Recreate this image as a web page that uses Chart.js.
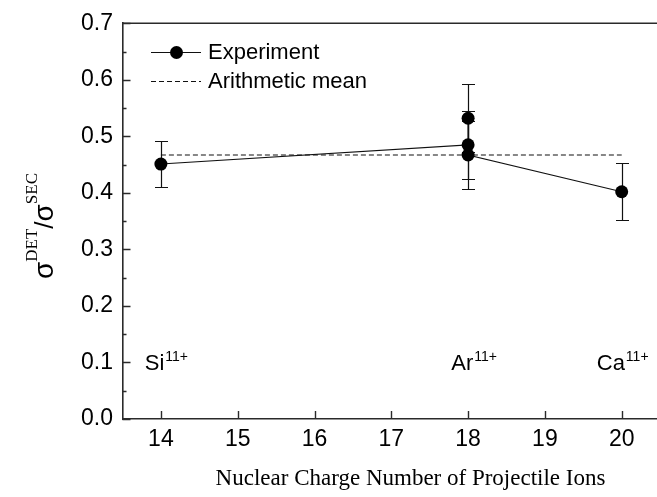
<!DOCTYPE html>
<html>
<head>
<meta charset="utf-8">
<script src="https://cdn.jsdelivr.net/npm/chart.js@4/dist/chart.umd.min.js"></script>
<style>
  html, body { margin: 0; padding: 0; background: #fff; overflow: hidden; }
  #wrap { width: 657px; height: 497px; overflow: hidden; }
</style>
</head>
<body>
<div id="wrap"><canvas id="ratio" width="705" height="497"></canvas></div>
<script>
// data
const ionZ = [14, 18, 18, 18, 20];
const ratio = [0.451, 0.485, 0.532, 0.467, 0.402];
const ratioErr = [0.04, 0.06, 0.06, 0.06, 0.05];
const meanValue = 0.467;
const meanRange = [14, 20];
const xTicks = [14, 15, 16, 17, 18, 19, 20];
const yTicks = [0, 0.1, 0.2, 0.3, 0.4, 0.5, 0.6, 0.7];
const ionNames = ["Si", "Ar", "Ca"];
const ionLabelX = [13.79, 17.78, 19.675];
const ionLabelY = 0.087;
const legendLabels = ["Experiment", "Arithmetic mean"];
const xTitle = "Nuclear Charge Number of Projectile Ions";

const SANS = "'Liberation Sans', Arial, sans-serif";
const SERIF = "'Liberation Serif', 'Times New Roman', serif";
const AXIS = "#2a2a2a";

const extras = {
  id: "extras",
  beforeDatasetsDraw(chart) {
    const { ctx, scales: { x, y } } = chart;
    ctx.save();
    ctx.strokeStyle = "#111";
    ctx.lineWidth = 1.2;
    ionZ.forEach((z, i) => {
      const px = Math.round(x.getPixelForValue(z)) + 0.5;
      const top = Math.round(y.getPixelForValue(ratio[i] + ratioErr[i])) + 0.5;
      const bot = Math.round(y.getPixelForValue(ratio[i] - ratioErr[i])) + 0.5;
      ctx.beginPath();
      ctx.moveTo(px, top); ctx.lineTo(px, bot);
      ctx.moveTo(px - 6.5, top); ctx.lineTo(px + 6.5, top);
      ctx.moveTo(px - 6.5, bot); ctx.lineTo(px + 6.5, bot);
      ctx.stroke();
    });
    ctx.restore();
  },
  afterDraw(chart) {
    const { ctx, chartArea: a, scales: { x, y } } = chart;
    ctx.save();
    // top frame line
    ctx.strokeStyle = AXIS;
    ctx.lineWidth = 1.6;
    ctx.beginPath();
    ctx.moveTo(a.left, a.top); ctx.lineTo(a.right, a.top);
    ctx.stroke();
    // inward ticks
    ctx.lineWidth = 1.4;
    ctx.beginPath();
    for (let v = 0; v <= 0.7001; v += 0.05) {
      const py = Math.round(y.getPixelForValue(v)) + 0.5;
      const major = Math.abs(v * 10 - Math.round(v * 10)) < 1e-6;
      ctx.moveTo(a.left, py); ctx.lineTo(a.left + (major ? 8 : 4), py);
    }
    xTicks.forEach(v => {
      const px = Math.round(x.getPixelForValue(v)) + 0.5;
      ctx.moveTo(px, a.bottom); ctx.lineTo(px, a.bottom - 8);
    });
    ctx.stroke();

    // legend
    ctx.strokeStyle = "#111";
    ctx.lineWidth = 1.1;
    ctx.beginPath();
    ctx.moveTo(151, 52.5); ctx.lineTo(201, 52.5);
    ctx.stroke();
    ctx.fillStyle = "#000";
    ctx.beginPath();
    ctx.arc(176.5, 52.5, 6.5, 0, Math.PI * 2);
    ctx.fill();
    ctx.setLineDash([5, 3]);
    ctx.beginPath();
    ctx.moveTo(151, 81.5); ctx.lineTo(201, 81.5);
    ctx.stroke();
    ctx.setLineDash([]);
    ctx.font = "22px " + SANS;
    ctx.textBaseline = "middle";
    ctx.fillText(legendLabels[0], 208, 53);
    ctx.fillText(legendLabels[1], 208, 82);

    // ion labels
    ctx.textBaseline = "alphabetic";
    ionNames.forEach((n, i) => {
      const px = x.getPixelForValue(ionLabelX[i]);
      const py = y.getPixelForValue(ionLabelY);
      ctx.font = "22px " + SANS;
      ctx.fillText(n, px, py);
      const w = ctx.measureText(n).width;
      ctx.font = "14px " + SANS;
      ctx.fillText("11+", px + w + 1, py - 9);
    });

    // y title
    ctx.translate(53, 279);
    ctx.rotate(-Math.PI / 2);
    let u = 0;
    const part = (t, font, dv) => {
      ctx.font = font;
      ctx.fillText(t, u, dv);
      u += ctx.measureText(t).width;
    };
    part("σ", "28px " + SANS, 0);
    part("DET", "17px " + SERIF, -16);
    part("/", "26px " + SANS, 0);
    part("σ", "28px " + SANS, 0);
    part("SEC", "17px " + SERIF, -16);
    ctx.restore();
  }
};

new Chart(document.getElementById("ratio"), {
  type: "scatter",
  data: {
    datasets: [
      {
        label: legendLabels[0],
        data: ionZ.map((z, i) => ({ x: z, y: ratio[i] })),
        showLine: true,
        borderColor: "#111",
        borderWidth: 1.1,
        pointRadius: 6.5,
        pointBackgroundColor: "#000",
        pointBorderWidth: 0
      },
      {
        label: legendLabels[1],
        data: meanRange.map(z => ({ x: z, y: meanValue })),
        showLine: true,
        borderColor: "#111",
        borderWidth: 1.1,
        borderDash: [5, 3],
        pointRadius: 0
      }
    ]
  },
  options: {
    responsive: false,
    animation: false,
    layout: { padding: { top: 15.5, right: 5, left: 0, bottom: 0 } },
    plugins: { legend: { display: false }, tooltip: { enabled: false } },
    scales: {
      x: {
        type: "linear",
        min: 13.5,
        max: 21,
        afterBuildTicks: s => { s.ticks = xTicks.map(v => ({ value: v })); },
        afterFit: s => { s.height = 78; },
        ticks: { autoSkip: false, color: "#000", padding: 7, font: { family: SANS, size: 23 } },
        grid: { display: false, drawTicks: false },
        border: { color: AXIS, width: 1.6 },
        title: { display: true, text: xTitle, color: "#000", padding: { top: 8 }, font: { family: SERIF, size: 23 } }
      },
      y: {
        min: 0,
        max: 0.7,
        afterBuildTicks: s => { s.ticks = yTicks.map(v => ({ value: v })); },
        afterFit: s => { s.width = 122.5; },
        ticks: { autoSkip: false, color: "#000", padding: 9.5, font: { family: SANS, size: 23 }, callback: v => v.toFixed(1) },
        grid: { display: false, drawTicks: false },
        border: { color: AXIS, width: 1.6 }
      }
    }
  },
  plugins: [extras]
});
</script>
</body>
</html>
